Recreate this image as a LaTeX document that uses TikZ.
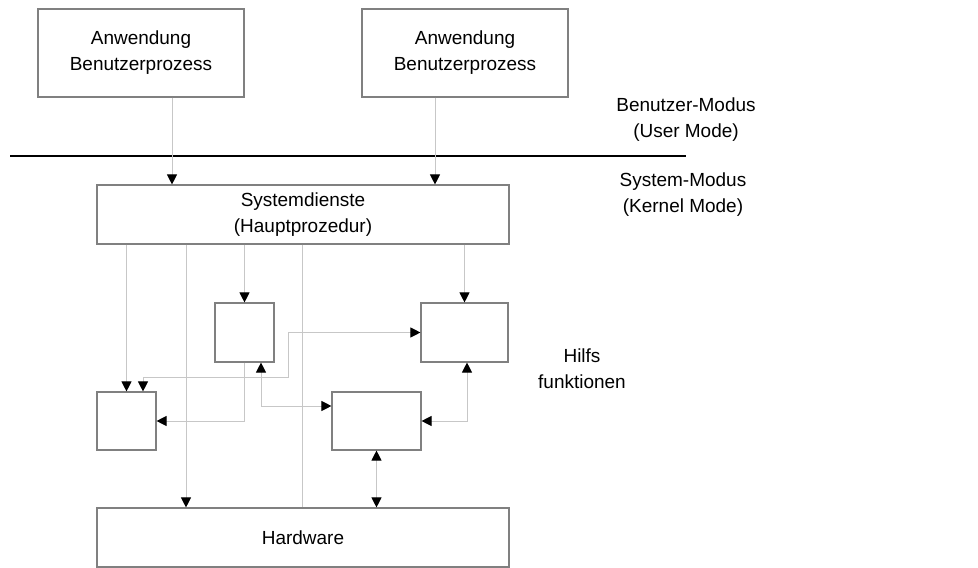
\documentclass[tikz,border=0pt]{standalone}
\usepackage{fontspec}
\setmainfont{Liberation Sans}
\usetikzlibrary{arrows.meta}

\begin{document}
\begin{tikzpicture}[x=0.25mm,y=-0.25mm,
    font=\fontsize{13.5}{18.5}\selectfont,
    >={Triangle[length=2.5mm,width=2.5mm,color=black]},
    box/.style={draw=black!50,line width=0.8pt,inner sep=0pt,align=center},
    conn/.style={draw=black!22,line width=0.7pt}]
  \useasboundingbox (0,0) rectangle (978,568);

  \node[box,minimum width=51.5mm,minimum height=22mm] (app1) at (141,53) {Anwendung\\Benutzerprozess};
  \node[box,minimum width=51.5mm,minimum height=22mm] (app2) at (465,53) {Anwendung\\Benutzerprozess};
  \node[box,minimum width=103mm,minimum height=14.75mm] (sys) at (303,214.5) {Systemdienste\\(Hauptprozedur)};
  \node[box,minimum width=14.75mm,minimum height=14.75mm] (hfa) at (244.5,332.5) {};
  \node[box,minimum width=21.75mm,minimum height=14.75mm] (hfb) at (464.5,332.5) {};
  \node[box,minimum width=14.75mm,minimum height=14.5mm] (hfc) at (126.5,421) {};
  \node[box,minimum width=22.25mm,minimum height=14.5mm] (hfd) at (376.5,421) {};
  \node[box,minimum width=103mm,minimum height=14.75mm] (hw) at (303,537.5) {Hardware};

  \node[align=center] (um) at (686,120) {Benutzer-Modus\\(User Mode)};
  \node[align=center] (km) at (683,195) {System-Modus\\(Kernel Mode)};
  \node[align=center] (hf) at (582,369) {Hilfs\\funktionen};

  \draw[line width=0.9pt] (10,156) -- (686,156);

  \draw[conn,->] (app1.south -| 172,0) -- (sys.north -| 172,0);
  \draw[conn,->] (app2.south -| 435,0) -- (sys.north -| 435,0);
  \draw[conn,->] (sys.south -| hfc.north) -- (hfc.north);
  \draw[conn,->] (sys.south -| 186,0) -- (hw.north -| 186,0);
  \draw[conn,->] (sys.south -| hfa.north) -- (hfa.north);
  \draw[conn] (sys.south -| 302,0) -- (hw.north -| 302,0);
  \draw[conn,->] (sys.south -| hfb.north) -- (hfb.north);
  \draw[conn,->] (hfa.south) |- (hfc.east);
  \draw[conn,<->] (hfc.north -| 143,0) -- (143,377) -- (288,377) |- (hfb.west);
  \draw[conn,<->] (hfa.south -| 261,0) |- (hfd.west |- 0,406);
  \draw[conn,<->] (hfb.south -| 467,0) |- (hfd.east);
  \draw[conn,<->] (hfd.south) -- (hfd.south |- hw.north);
\end{tikzpicture}
\end{document}
